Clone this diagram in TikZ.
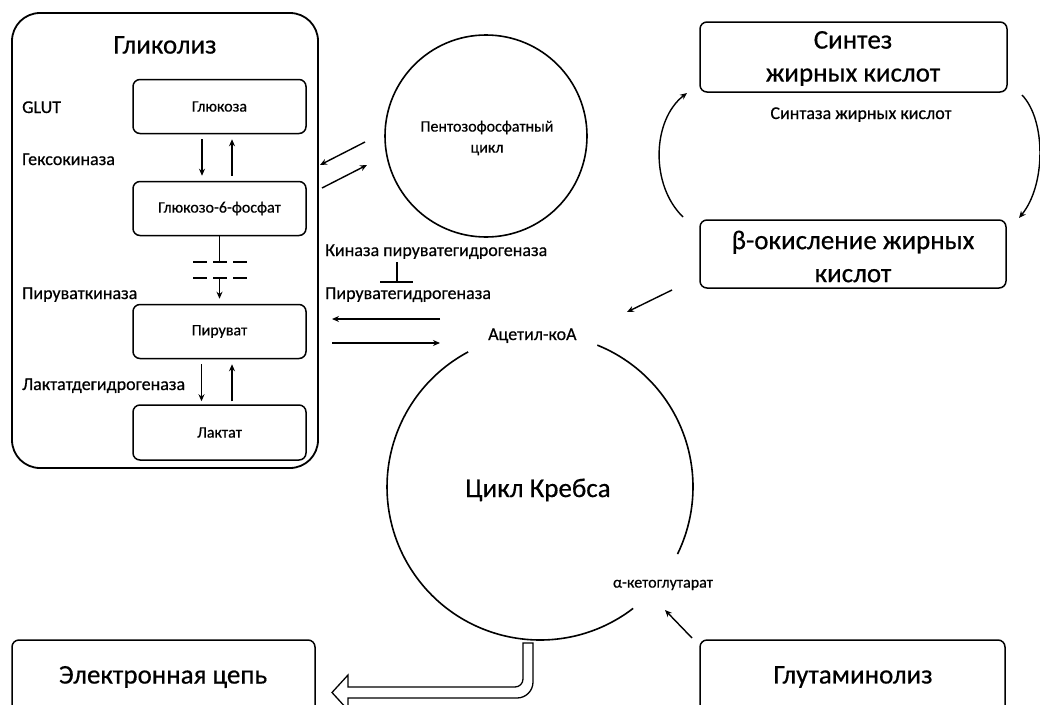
\documentclass[tikz,border=0pt]{standalone}
\usepackage{fontspec}
\setmainfont{Carlito}[FakeBold=0.5]
\usetikzlibrary{arrows.meta,calc}
\begin{document}
\begin{tikzpicture}[x=1pt,y=-1pt,
  box/.style={draw, line width=1.5pt, rounded corners=7pt, inner sep=0pt},
  lbl/.style={font=\fontsize{18}{20}\selectfont, anchor=base west, inner sep=0pt},
  clbl/.style={font=\fontsize{18}{20}\selectfont, anchor=base, inner sep=0pt},
  blbl/.style={font=\fontsize{16}{21}\selectfont, inner sep=0pt, align=center},
  big/.style={font=\fontsize{27}{33}\selectfont, align=center, inner sep=0pt},
  arr/.style={line width=1.4pt, -{Stealth[length=7pt,width=6pt]}},
  ln/.style={line width=1.4pt}]
\useasboundingbox (0,0) rectangle (1040,704);
\clip (0,0) rectangle (1040,704);

% ---------- Glycolysis ----------
\node[draw, line width=1.8pt, rounded corners=28pt, minimum width=306pt, minimum height=455pt] (glyc) at (165,240.5) {};
\node[big] (tglyc) at (165,45) {Гликолиз};
\node[box, minimum width=173pt, minimum height=54pt, blbl] (glu) at (219.5,106.5) {Глюкоза};
\node[box, minimum width=173pt, minimum height=54pt, blbl] (g6p) at (219.5,208.5) {Глюкозо-6-фосфат};
\node[box, minimum width=173pt, minimum height=54pt, blbl] (pyr) at (219.5,331.5) {Пируват};
\node[box, minimum width=173pt, minimum height=55pt, blbl] (lac) at (219.5,432.5) {Лактат};

\node[lbl] (lglut) at (22,113) {GLUT};
\node[lbl] (lhk) at (22,165) {Гексокиназа};
\node[lbl] (lpk) at (22,299) {Пируваткиназа};
\node[lbl] (lldh) at (22,390) {Лактатдегидрогеназа};

\draw[arr] ($(glu.south)+(-17.5,5)$) -- ($(g6p.north)+(-17.5,-5)$);
\draw[arr] ($(g6p.north)+(12.5,-5)$) -- ($(glu.south)+(12.5,5)$);
\draw[arr] ($(pyr.south)+(-18,5)$) -- ($(lac.north)+(-18,-3)$);
\draw[arr] ($(lac.north)+(12.5,-3)$) -- ($(pyr.south)+(12.5,5)$);

\coordinate (b1) at (219.5,262);
\coordinate (b2) at (219.5,278);
\coordinate (d1l) at (193,262); \coordinate (d1r) at (247,262);
\coordinate (d2l) at (193,278); \coordinate (d2r) at (247,278);
\draw[ln] (g6p.south) -- (b1);
\draw[ln, dash pattern=on 14pt off 6pt] (d1l) -- (d1r);
\draw[ln, dash pattern=on 14pt off 6pt] (d2l) -- (d2r);
\draw[arr] (b2) -- ($(pyr.north)+(0,-5)$);

% ---------- Pentose phosphate ----------
\node[draw, circle, line width=1.6pt, minimum size=202pt, inner sep=0pt] (ppp) at (486,136) {};
\node[blbl] (tppp) at (487,138) {Пентозофосфатный\\цикл};
\coordinate (p1s) at (365,142); \coordinate (p1e) at (320,165);
\coordinate (p2s) at (322,188); \coordinate (p2e) at (367,165);
\draw[arr] (p1s) -- (p1e);
\draw[arr] (p2s) -- (p2e);

% ---------- PDH ----------
\node[lbl] (lpdk) at (325,256) {Киназа пируватегидрогеназа};
\node[lbl] (lpdh) at (325,299) {Пируватегидрогеназа};
\coordinate (t1) at (397,262); \coordinate (t2) at (397,282);
\coordinate (t3) at (380,282); \coordinate (t4) at (413,282);
\draw[ln] (t1) -- (t2);
\draw[ln] (t3) -- (t4);

\node[lbl] (acoa) at (488,340) {Ацетил-коА};
\coordinate (a1) at (440,319); \coordinate (a2) at (332,319);
\coordinate (a3) at (332,343); \coordinate (a4) at (440,343);
\draw[arr] (a1) -- (a2);
\draw[arr] (a3) -- (a4);

% ---------- Krebs ----------
\coordinate (kc) at (540,487);
\draw[line width=1.6pt] ($(kc)+(-68:153)$) arc[start angle=-68, end angle=26, radius=153];
\draw[line width=1.6pt] ($(kc)+(52.5:153)$) arc[start angle=52.5, end angle=242, radius=153];
\node[big] (tkrebs) at (538,490) {Цикл Кребса};
\node[font=\fontsize{16}{18}\selectfont, inner sep=0pt] (akg) at (663,585) {α-кетоглутарат};

% ---------- Fatty acids ----------
\node[box, minimum width=307pt, minimum height=70pt] (syn) at (853.5,57) {};
\node[big] (tsyn) at (853,58.5) {Синтез\\жирных кислот};
\node[box, minimum width=306pt, minimum height=68pt] (box) at (853,254) {};
\node[big] (tbox) at (853,256.5) {β-окисление жирных\\кислот};
\node[clbl] (lfas) at (861,119) {Синтаза жирных кислот};
\coordinate (c1s) at (683,217); \coordinate (c1e) at (687,93);
\coordinate (c2s) at (1022,95); \coordinate (c2e) at (1019,218);
\draw[arr] (c1s) .. controls (650,185) and (652,120) .. (c1e);
\draw[arr] (c2s) .. controls (1046,120) and (1046,185) .. (c2e);
\coordinate (bo1) at (672,290); \coordinate (bo2) at (627,312);
\draw[arr] (bo1) -- (bo2);

% ---------- Bottom ----------
\node[box, minimum width=303pt, minimum height=74pt] (etc) at (163.5,677) {};
\node[big] (tetc) at (163,677) {Электронная цепь};
\node[box, minimum width=305pt, minimum height=74pt] (glutm) at (852.5,677) {};
\node[big] (tglutm) at (853,677) {Глутаминолиз};
\coordinate (g1) at (692,638); \coordinate (g2) at (665,610);
\draw[arr] (g1) -- (g2);

\draw[line width=1.3pt, line join=miter, fill=white] (523,643) -- (533,643) -- (533,682)
  arc[start angle=0, end angle=90, radius=16] -- (348,698) -- (348,710) -- (332,692.5)
  -- (348,675) -- (348,687) -- (515,687) arc[start angle=90, end angle=0, radius=8] -- cycle;
\end{tikzpicture}
\end{document}
